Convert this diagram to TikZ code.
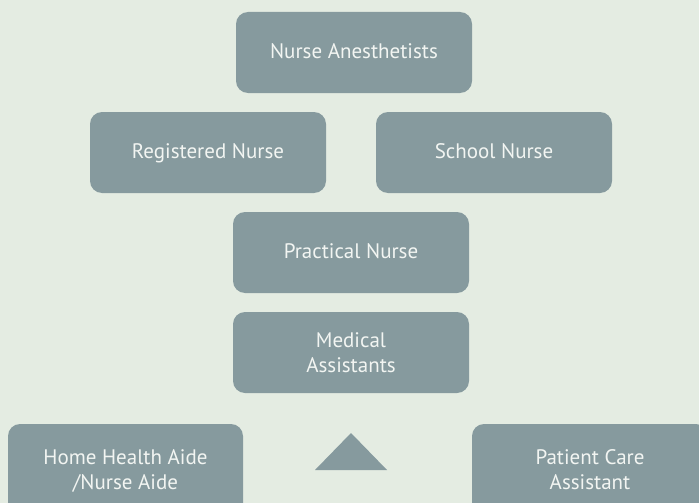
\documentclass[tikz,border=0pt]{standalone}
\usepackage{fontspec}
\setmainfont{PT Sans}
\usetikzlibrary{positioning}
\definecolor{bgcol}{HTML}{E4ECE2}
\definecolor{boxcol}{HTML}{869A9E}
\definecolor{txtcol}{HTML}{F2F5F2}

\begin{document}
\begin{tikzpicture}[x=1pt,y=-1pt,
        box/.style={fill=boxcol,rounded corners=12pt,minimum width=236pt,minimum height=81pt,
            inner sep=0pt,text=txtcol,align=center,font=\fontsize{21}{25}\selectfont},
        oneline/.style={text height=16pt,text depth=4pt}]
        \clip (0,0) rectangle (699,503);
        \fill[bgcol] (0,0) rectangle (699,503);

        \node[box,oneline] (anest) at (354,52.5) {Nurse Anesthetists};
        \node[box,oneline] (regist) at (208,152.5) {Registered Nurse};
        \node[box,oneline] (school) at (494,152.5) {School Nurse};
        \node[box,oneline] (pract) at (351,252.5) {Practical Nurse};
        \node[box] (medic) at (351,352.5) {Medical\\Assistants};
        \node[box,minimum width=235pt,minimum height=95pt] (home) at (125.5,471.5) {Home Health Aide\\/Nurse Aide};
        \node[box,minimum height=91pt] (patient) at (590,469.5) {Patient Care\\Assistant};

        % triangle
        \coordinate (tip) at (351,433);
        \coordinate (left) at (315,470);
        \coordinate (right) at (387,470);
        \fill[boxcol] (tip)--(left)--(right)-- cycle;
    \end{tikzpicture}
\end{document}
